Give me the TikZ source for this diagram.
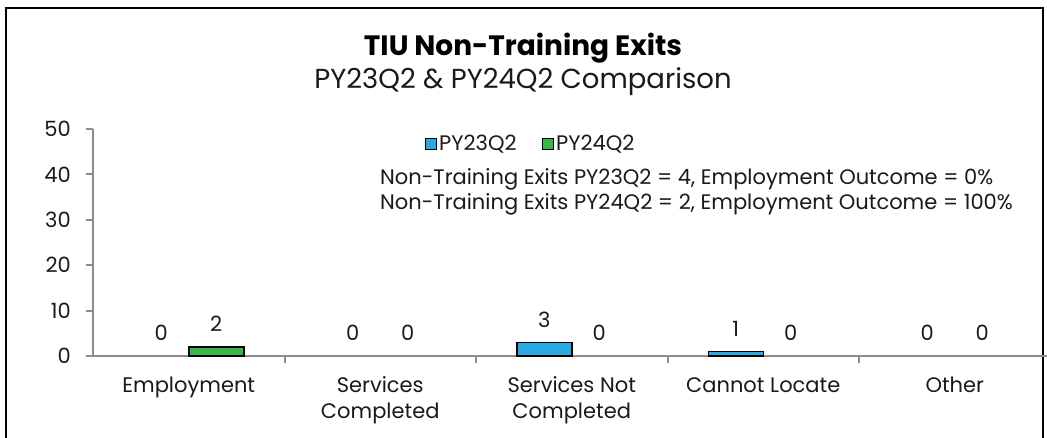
\documentclass[tikz,border=0pt]{standalone}
\usepackage{fontspec}
\setmainfont{Poppins}
\definecolor{cblue}{HTML}{27AAE1}
\definecolor{cgreen}{HTML}{39B54A}
\definecolor{axisgray}{HTML}{8C8C8C}
\definecolor{txt}{HTML}{1A1A1A}
\begin{document}
\begin{tikzpicture}[x=1pt,y=-1pt,
  lbl/.style={font=\fontsize{21}{26}\selectfont, text=txt, inner sep=0pt},
  axisline/.style={draw=axisgray, line width=2pt},
  bluebar/.style={fill=cblue, draw=black, line width=1.5pt},
  greenbar/.style={fill=cgreen, draw=black, line width=1.5pt},
  legsq/.style={draw=black, line width=1.2pt, minimum width=11.5pt, minimum height=11.5pt, inner sep=0pt}
]
\useasboundingbox (0,0) rectangle (1047,438);
\begin{scope}
\clip (0,0) rectangle (1047,438);
\fill[white] (0,0) rectangle (1047,438);
% frame
\draw[line width=2pt] (6,445) -- (6,8) -- (1043,8) -- (1043,445);
% title
\node[font=\fontsize{28}{34}\selectfont\bfseries, text=black, inner sep=0pt, anchor=base] (title) at (523,56) {TIU Non-Training Exits};
\node[font=\fontsize{27.5}{33}\selectfont, text=txt, inner sep=0pt, anchor=base] (subtitle) at (523,89) {PY23Q2 \& PY24Q2 Comparison};
% y axis
\coordinate (yb) at (93,356);
\coordinate (yt) at (93,129);
\draw[axisline] (yb) -- (yt);
\foreach \v [count=\i from 0] in {0,10,20,30,40,50} {
  \pgfmathsetmacro{\yy}{356-4.54*\v}
  \coordinate (yt\i) at (93,\yy);
  \draw[axisline] (86,\yy) -- (yt\i);
  \node[lbl, anchor=east] (ylab\i) at (71,\yy) {\v};
}
% x axis
\coordinate (xe) at (1050,356);
\draw[axisline] (yb) -- (xe);
\foreach \i in {1,...,4} {
  \coordinate (xt\i) at (93+191.5*\i,356);
  \draw[axisline] (xt\i) -- ++(0,7);
}
% bars and labels
\foreach \b/\g [count=\i from 0] in {0/2,0/0,3/0,1/0,0/0} {
  \pgfmathsetmacro{\cx}{93+191.5*(\i+0.5)}
  \ifnum\b>0
    \draw[bluebar] (\cx-55,356) rectangle (\cx,356-4.54*\b);
  \fi
  \ifnum\g>0
    \draw[greenbar] (\cx,356) rectangle (\cx+55,356-4.54*\g);
  \fi
  \node[lbl, anchor=base] (bl\i) at (\cx-27.5,341-4.54*\b) {\b};
  \node[lbl, anchor=base] (gl\i) at (\cx+27.5,341-4.54*\g) {\g};
}
% category labels (base anchor = last line)
\node[lbl, anchor=base, align=center] (c0) at (188.75,392) {Employment};
\node[lbl, anchor=base, align=center] (c1) at (380.25,418) {Services\\Completed};
\node[lbl, anchor=base, align=center] (c2) at (571.75,418) {Services Not\\Completed};
\node[lbl, anchor=base, align=center] (c3) at (763.25,392) {Cannot Locate};
\node[lbl, anchor=base, align=center] (c4) at (954.75,392) {Other};
% legend
\node[legsq, fill=cblue] (lsq1) at (431,144) {};
\node[lbl, anchor=base west] (ltx1) at (439,151) {PY23Q2};
\node[legsq, fill=cgreen] (lsq2) at (548,144) {};
\node[lbl, anchor=base west] (ltx2) at (556,151) {PY24Q2};
% info text
\node[lbl, anchor=base west] (info1) at (380,185) {Non-Training Exits PY23Q2 = 4, Employment Outcome = 0\%};
\node[lbl, anchor=base west] (info2) at (380,210) {Non-Training Exits PY24Q2 = 2, Employment Outcome = 100\%};
\end{scope}
\end{tikzpicture}
\end{document}
